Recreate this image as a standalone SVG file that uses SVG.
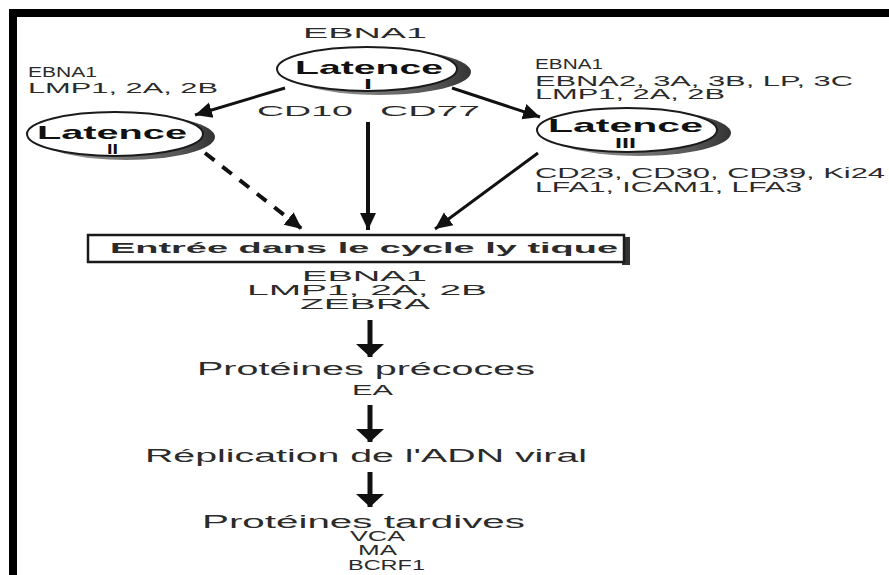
<svg xmlns="http://www.w3.org/2000/svg" width="889" height="575" viewBox="0 0 889 575">
  <style>
    .t { font-family: "Liberation Sans", Arial, sans-serif; fill: #2b2b2b; font-size: 15px; }
    .ts { font-family: "Liberation Sans", Arial, sans-serif; fill: #2b2b2b; font-size: 14px; }
    .tl { font-family: "Liberation Sans", Arial, sans-serif; fill: #2b2b2b; font-size: 18px; }
    .lab { font-family: "Liberation Sans", Arial, sans-serif; fill: #111; font-weight: bold; font-size: 19px; }
    .num { font-family: "Liberation Sans", Arial, sans-serif; fill: #111; font-weight: bold; font-size: 15px; }
    .ell { fill: #fff; stroke: #1a1a1a; stroke-width: 2; }
    .shadow { fill: url(#sh); }
    .conn { stroke: #111; fill: none; }
  </style>
  <defs>
    <linearGradient id="sh" x1="0" y1="0" x2="1" y2="0">
      <stop offset="0" stop-color="#aaa"/>
      <stop offset="0.8" stop-color="#555"/>
      <stop offset="1" stop-color="#333"/>
    </linearGradient>
    <marker id="ah" markerUnits="userSpaceOnUse" markerWidth="18" markerHeight="18" viewBox="0 0 18 18" refX="17" refY="9" orient="auto">
      <path d="M0,1 L17,9 L0,17 Z" fill="#111"/>
    </marker>
    <marker id="ahb" markerUnits="userSpaceOnUse" markerWidth="14" markerHeight="28" viewBox="0 0 14 28" refX="13" refY="14" orient="auto">
      <path d="M0,0 L13,14 L0,28 Z" fill="#111"/>
    </marker>
  </defs>

  <rect x="0" y="0" width="889" height="575" fill="#fff"/>
  <rect x="9" y="9" width="880" height="8" fill="#000"/>
  <rect x="9" y="9" width="8" height="566" fill="#000"/>

  <g id="connectors">
    <line class="conn" x1="285" y1="88" x2="195" y2="115" stroke-width="3" marker-end="url(#ah)"/>
    <line class="conn" x1="452" y1="88" x2="540" y2="117" stroke-width="3" marker-end="url(#ah)"/>
    <line class="conn" x1="205" y1="153" x2="302" y2="229" stroke-width="4" stroke-dasharray="12 10" marker-end="url(#ah)"/>
    <line class="conn" x1="368" y1="122" x2="368" y2="230" stroke-width="4" marker-end="url(#ah)"/>
    <line class="conn" x1="538" y1="153" x2="435" y2="229" stroke-width="3" marker-end="url(#ah)"/>
    <line class="conn" x1="370" y1="320" x2="370" y2="357" stroke-width="5" marker-end="url(#ahb)"/>
    <line class="conn" x1="370" y1="405" x2="370" y2="442" stroke-width="5" marker-end="url(#ahb)"/>
    <line class="conn" x1="370" y1="472" x2="370" y2="507" stroke-width="5" marker-end="url(#ahb)"/>
  </g>

  <g id="latence1">
    <ellipse class="shadow" cx="379" cy="72" rx="92" ry="23"/>
    <ellipse class="ell" cx="367" cy="69" rx="90" ry="22"/>
    <text class="lab" x="295" y="74" textLength="148" lengthAdjust="spacingAndGlyphs">Latence</text>
    <text class="num" x="364" y="89" textLength="8" lengthAdjust="spacingAndGlyphs">I</text>
  </g>
  <g id="latence2">
    <ellipse class="shadow" cx="126" cy="137" rx="89" ry="23"/>
    <ellipse class="ell" cx="115" cy="134" rx="88" ry="22"/>
    <text class="lab" x="37" y="139" textLength="150" lengthAdjust="spacingAndGlyphs">Latence</text>
    <text class="num" x="107" y="154" textLength="11" lengthAdjust="spacingAndGlyphs">II</text>
  </g>
  <g id="latence3">
    <ellipse class="shadow" cx="639" cy="133" rx="92" ry="23"/>
    <ellipse class="ell" cx="627" cy="130" rx="90" ry="22"/>
    <text class="lab" x="548" y="132" textLength="155" lengthAdjust="spacingAndGlyphs">Latence</text>
    <text class="num" x="615" y="148" textLength="21" lengthAdjust="spacingAndGlyphs">III</text>
  </g>

  <g id="labels-top">
    <text class="t" x="303" y="38" textLength="124" lengthAdjust="spacingAndGlyphs">EBNA1</text>
    <text class="ts" x="28" y="77" textLength="69" lengthAdjust="spacingAndGlyphs">EBNA1</text>
    <text class="ts" x="28" y="93" textLength="190" lengthAdjust="spacingAndGlyphs">LMP1, 2A, 2B</text>
    <text class="t" x="257" y="116" textLength="96" lengthAdjust="spacingAndGlyphs">CD10</text>
    <text class="t" x="380" y="116" textLength="100" lengthAdjust="spacingAndGlyphs">CD77</text>
    <text class="ts" x="535" y="69" textLength="68" lengthAdjust="spacingAndGlyphs">EBNA1</text>
    <text class="ts" x="535" y="86" textLength="318" lengthAdjust="spacingAndGlyphs">EBNA2, 3A, 3B, LP, 3C</text>
    <text class="ts" x="535" y="99" textLength="190" lengthAdjust="spacingAndGlyphs">LMP1, 2A, 2B</text>
    <text class="ts" x="535" y="178" textLength="350" lengthAdjust="spacingAndGlyphs">CD23, CD30, CD39, Ki24</text>
    <text class="ts" x="535" y="192" textLength="267" lengthAdjust="spacingAndGlyphs">LFA1, ICAM1, LFA3</text>
  </g>

  <g id="cycle-box">
    <rect x="622" y="237" width="8" height="28" fill="#333"/>
    <rect x="88" y="235" width="536" height="27" fill="#fff" stroke="#1a1a1a" stroke-width="2.5"/>
    <text class="t" x="110" y="253" font-weight="bold" font-size="17" fill="#111" textLength="508" lengthAdjust="spacingAndGlyphs">Entrée dans le cycle ly tique</text>
  </g>

  <g id="lytic-proteins">
    <text class="ts" x="302" y="281" textLength="125" lengthAdjust="spacingAndGlyphs">EBNA1</text>
    <text class="ts" x="247" y="295" textLength="240" lengthAdjust="spacingAndGlyphs">LMP1, 2A, 2B</text>
    <text class="ts" x="300" y="309" textLength="130" lengthAdjust="spacingAndGlyphs">ZEBRA</text>
  </g>
  <g id="early">
    <text class="tl" x="197" y="375" textLength="338" lengthAdjust="spacingAndGlyphs">Protéines précoces</text>
    <text class="t" x="352" y="395" textLength="41" lengthAdjust="spacingAndGlyphs">EA</text>
  </g>
  <g id="replication">
    <text class="tl" x="145" y="462" textLength="442" lengthAdjust="spacingAndGlyphs">Réplication de l'ADN viral</text>
  </g>
  <g id="late">
    <text class="tl" x="202" y="528" textLength="323" lengthAdjust="spacingAndGlyphs">Protéines tardives</text>
    <text class="ts" x="350" y="541" textLength="55" lengthAdjust="spacingAndGlyphs">VCA</text>
    <text class="ts" x="358" y="555" textLength="39" lengthAdjust="spacingAndGlyphs">MA</text>
    <text class="ts" x="348" y="570" textLength="77" lengthAdjust="spacingAndGlyphs">BCRF1</text>
  </g>
</svg>
